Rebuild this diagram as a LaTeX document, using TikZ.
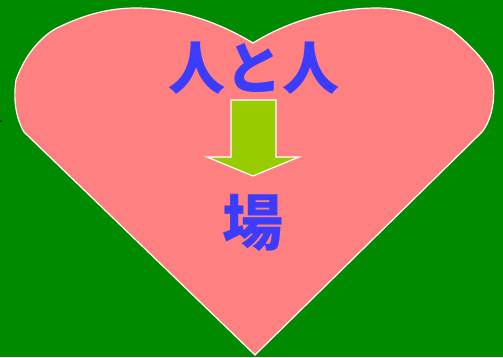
\documentclass[tikz,border=0pt]{standalone}
\usepackage{fontspec}
\newfontfamily\cjk{Noto Sans CJK JP}
\definecolor{bggreen}{RGB}{0,138,0}
\definecolor{heartpink}{RGB}{255,128,128}
\definecolor{textblue}{RGB}{60,60,255}
\definecolor{arrowlime}{RGB}{153,204,0}
\tikzset{
  bigword/.style={text=textblue, font=\cjk\bfseries\fontsize{57}{60}\selectfont, inner sep=0pt},
  outline/.style={draw=white, line width=1.2pt, line join=miter}
}

\begin{document}
\begin{tikzpicture}[x=1pt,y=-1pt]
	\fill[bggreen] (0,0) rectangle (503,357);
	\useasboundingbox (0,0) rectangle (503,357);
	% heart
	\filldraw[outline, fill=heartpink] (255,355) -- (24,132) .. controls (16,118) and (13,100) .. (16,80)
		.. controls (25,55) and (40,38) .. (55,29) .. controls (85,14) and (110,8) .. (136,8) .. controls (175,8) and (215,20) .. (253,43)
		.. controls (290,20) and (335,8) .. (377,8) .. controls (405,8) and (430,18) .. (452,30)
		.. controls (470,45) and (485,60) .. (492,75) .. controls (496,95) and (493,118) .. (482,132) -- cycle;
	\fill (1,121) circle (1pt);
	\node[bigword] (people) at (254,68) {人と人};
	\node[bigword, font=\cjk\bfseries\fontsize{61}{64}\selectfont] (place) at (253,223) {場};
	% block arrow
	\filldraw[outline, fill=arrowlime] (231,100) -- (276,100) -- (276,157) -- (299,157) -- (253,176)
		-- (207,157) -- (231,157) -- cycle;
\end{tikzpicture}
\end{document}
